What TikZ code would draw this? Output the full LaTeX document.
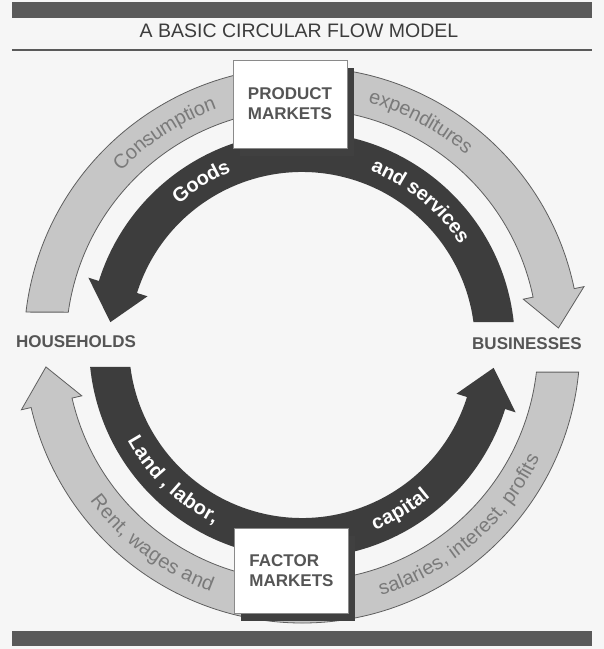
\documentclass[tikz,border=0pt]{standalone}
\usepackage{fontspec}
\setmainfont{Liberation Sans}
\usetikzlibrary{decorations.text,shadows,positioning}

\definecolor{paper}{HTML}{F6F6F6}
\definecolor{bargrey}{HTML}{5A5A5A}
\definecolor{titlegrey}{HTML}{3C3C3C}
\definecolor{moneygrey}{HTML}{C6C6C6}
\definecolor{edgegrey}{HTML}{5E5E5E}
\definecolor{realgrey}{HTML}{3D3D3D}
\definecolor{ringgrey}{HTML}{7A7A7A}
\definecolor{labelgrey}{HTML}{555555}
\definecolor{boxedge}{HTML}{8A8A8A}
\definecolor{shadowgrey}{HTML}{404040}

\newcommand\ringfont{\fontsize{20}{24}\selectfont}
\newcommand\ringbold{\bfseries\fontsize{20}{24}\selectfont}

\tikzset{
  moneyflow/.style={fill=moneygrey, draw=edgegrey, line width=0.8pt},
  realflow/.style={fill=realgrey},
  market/.style={draw=boxedge, fill=white, line width=0.6pt,
    minimum width=114pt, minimum height=88pt, align=left,
    text=labelgrey, font=\bfseries\fontsize{17}{20}\selectfont,
    drop shadow={shadow xshift=7pt, shadow yshift=-8pt, fill=shadowgrey, opacity=1}},
  sector/.style={text=labelgrey, font=\bfseries\fontsize{17}{20}\selectfont},
  heading/.style={text=titlegrey, font=\fontsize{19.5}{23}\selectfont},
  ringtext/.style={decorate, decoration={text along path, text align=center, raise=-6pt}}
}

\begin{document}
\begin{tikzpicture}[x=1pt, y=1pt]
  % page, bars and title
  \fill[paper] (-302,345) rectangle (302,-304);
  \fill[bargrey] (-290,343) rectangle (290,327);
  \node[heading, anchor=base] (title) at (-3,308) {A BASIC CIRCULAR FLOW MODEL};
  \draw[bargrey, line width=1.4pt] (-290,295) -- (290,295);
  \fill[bargrey] (-290,-286) rectangle (290,-301);

  % top half: spending and goods
  \filldraw[moneyflow] (173.2:278) arc[start angle=173.2, end angle=11.7, radius=278]
    -- (11.7:288) -- (3.8:257) -- (11.7:226) -- (11.7:236)
    arc[start angle=11.7, end angle=172, radius=236] -- cycle;
  \fill[realflow] (6.2:213) arc[start angle=6.2, end angle=162.5, radius=213]
    -- (162.5:224) -- (173.2:193) -- (162.5:162) -- (162.5:173)
    arc[start angle=162.5, end angle=7.6, radius=173] -- cycle;

  % bottom half: factors and incomes
  \fill[realflow] (185.9:213) arc[start angle=185.9, end angle=342.5, radius=213]
    -- (342.5:224) -- (353.2:193) -- (342.5:162) -- (342.5:173)
    arc[start angle=342.5, end angle=187.3, radius=173] -- cycle;
  \filldraw[moneyflow] (354.4:278) arc[start angle=354.4, end angle=193, radius=278]
    -- (193:288) -- (184.9:257) -- (193:226) -- (193:236)
    arc[start angle=193, end angle=353.4, radius=236] -- cycle;

  % words on the rings
  \path[ringtext, decoration={text color=ringgrey, text={|\ringfont|Consumption}}]
    (163:257) arc[start angle=163, end angle=83, radius=257];
  \path[ringtext, decoration={text color=ringgrey, text={|\ringfont|expenditures}}]
    (102:257) arc[start angle=102, end angle=22, radius=257];
  \path[ringtext, decoration={text color=white, text={|\ringbold|Goods}}]
    (161.7:193) arc[start angle=161.7, end angle=81.7, radius=193];
  \path[ringtext, decoration={text color=white, text={|\ringbold|and services}}]
    (90.5:193) arc[start angle=90.5, end angle=10.5, radius=193];
  \path[ringtext, decoration={text color=white, text={|\ringbold|Land , labor,}}]
    (186.3:193) arc[start angle=186.3, end angle=266.3, radius=193];
  \path[ringtext, decoration={text color=white, text={|\ringbold|capital}}]
    (260.8:193) arc[start angle=260.8, end angle=340.8, radius=193];
  \path[ringtext, decoration={text color=ringgrey, text={|\ringfont|Rent, wages and}}]
    (193:257) arc[start angle=193, end angle=273, radius=257];
  \path[ringtext, decoration={text color=ringgrey, text={|\ringfont|salaries, interest, profits}}]
    (271:257) arc[start angle=271, end angle=351, radius=257];

  % markets and sectors
  \node[market] (product) at (-12,241) {PRODUCT\\MARKETS};
  \node[market, minimum height=85pt] (factor) at (-10.5,-225.5) {FACTOR\\MARKETS};
  \node[sector] (households) at (-226,3) {HOUSEHOLDS};
  \node[sector] (businesses) at (225,1) {BUSINESSES};
\end{tikzpicture}
\end{document}
